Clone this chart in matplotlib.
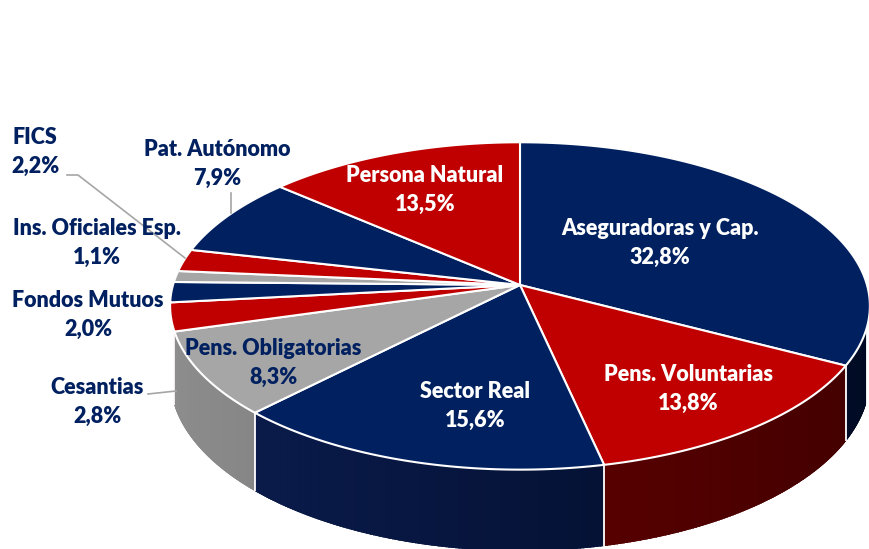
import numpy as np
import matplotlib
matplotlib.use("Agg")
import matplotlib.pyplot as plt
from matplotlib.patches import Polygon

# ---- data ----
categories = ["Aseguradoras y Cap.", "Pens. Voluntarias", "Sector Real", "Pens. Obligatorias",
              "Cesantias", "Fondos Mutuos", "Ins. Oficiales Esp.", "FICS", "Pat. Autónomo",
              "Persona Natural"]
values = [32.8, 13.8, 15.6, 8.3, 2.8, 2.0, 1.1, 2.2, 7.9, 13.5]
colors = ["#002060", "#C00000", "#002060", "#A6A6A6", "#C00000",
          "#002060", "#A6A6A6", "#C00000", "#002060", "#C00000"]
text_colors = ["white", "white", "white", "#002060", "#002060",
               "#002060", "#002060", "#002060", "#002060", "white"]

# wall shading (left -> right) per top colour
wall_shades = {
    "#002060": ((12, 30, 82), (0, 10, 35)),
    "#C00000": ((120, 0, 0), (65, 0, 0)),
    "#A6A6A6": ((142, 142, 142), (90, 90, 90)),
}

# ---- geometry (perspective projection of a cylinder) ----
cx, cy = 520, 285
A, B = 347, 161
p = 0.128
H = 71
v_visible = -0.27


def proj(theta_deg, z=0.0):
    t = np.radians(theta_deg)
    u, v = np.cos(t), np.sin(t)
    w = 1 + p * v
    return cx + A * u / w, cy - B * v / w + H * z / w


fig = plt.figure(figsize=(8.69, 5.49), dpi=100)
ax = fig.add_axes([0, 0, 1, 1])
ax.set_xlim(0, 869)
ax.set_ylim(549, 0)
ax.axis("off")

total = sum(values)
cum = np.concatenate([[0], np.cumsum(values)]) / total * 360.0
starts = 90 - cum[:-1]
ends = 90 - cum[1:]

# visible angular range of the wall
th_all = np.linspace(-180, 0, 3601)
vis = th_all[np.sin(np.radians(th_all)) <= v_visible + 1e-9]
th_lo, th_hi = vis.min(), vis.max()

for i, (a0, a1) in enumerate(zip(starts, ends)):
    lo, hi = min(a0, a1), max(a0, a1)
    lo, hi = max(lo, th_lo), min(hi, th_hi)
    if lo >= hi:
        continue
    ang = np.linspace(lo, hi, 200)
    xt, yt = proj(ang, 0)
    xb, yb = proj(ang, 1)
    outline = list(zip(xt, yt)) + list(zip(xb[::-1], yb[::-1]))
    c0, c1 = wall_shades[colors[i]]
    tm = (np.cos(np.radians((lo + hi) / 2)) + 1) / 2
    base = tuple((c0[k] + (c1[k] - c0[k]) * tm) / 255 for k in range(3))
    wall = Polygon(outline, closed=True, facecolor=base, edgecolor="none")
    ax.add_patch(wall)
    n = max(2, int((hi - lo) / 0.5))
    seg = np.linspace(lo, hi, n + 1)
    for j in range(n):
        b0, b1 = seg[j], seg[j + 1]
        mid = (b0 + b1) / 2
        x0t, y0t = proj(b0, 0)
        x1t, y1t = proj(b1, 0)
        x0b, y0b = proj(b0, 1.1)
        x1b, y1b = proj(b1, 1.1)
        t = (np.cos(np.radians(mid)) + 1) / 2
        col = tuple((c0[k] + (c1[k] - c0[k]) * t) / 255 for k in range(3))
        pp = Polygon([(x0t, y0t - 2), (x1t, y1t - 2), (x1b, y1b), (x0b, y0b)],
                     closed=True, facecolor=col, edgecolor=col, lw=0.8)
        ax.add_patch(pp)
        pp.set_clip_path(wall)

# white lines on visible wall boundaries
for a in list(starts):
    if th_lo <= a <= th_hi:
        xt, yt = proj(a, 0)
        xb, yb = proj(a, 1)
        ax.plot([xt, xb], [yt, yb], color="white", lw=1.3, solid_capstyle="butt")

# top faces
for i, (a0, a1) in enumerate(zip(starts, ends)):
    ang = np.linspace(a0, a1, 200)
    xs, ys = proj(ang, 0)
    pts = [(cx, cy)] + list(zip(xs, ys))
    ax.add_patch(Polygon(pts, closed=True, facecolor=colors[i], edgecolor="white",
                         lw=1.5, joinstyle="round"))

# labels
label_pos = [(660, 243), (688, 389), (475, 406), (273, 363), (97, 402),
             (88, 315), (97, 243), (35, 152), (217, 164), (425, 190)]
for i, cat in enumerate(categories):
    txt = cat + "\n" + f"{values[i]:.1f}".replace(".", ",") + "%"
    ax.text(label_pos[i][0], label_pos[i][1], txt, ha="center", va="center",
            color=text_colors[i], fontsize=15.5, fontweight="heavy",
            family=["Lato", "DejaVu Sans"], linespacing=1.5)

# leader lines
lc = "#A6A6A6"
ax.plot([148, 176], [394, 391], color=lc, lw=1.2)
ax.plot([67, 78, 185], [175, 175, 258], color=lc, lw=1.2)
ax.plot([231, 231], [193, 213], color=lc, lw=1.2)

fig.savefig("out.png", dpi=100)
